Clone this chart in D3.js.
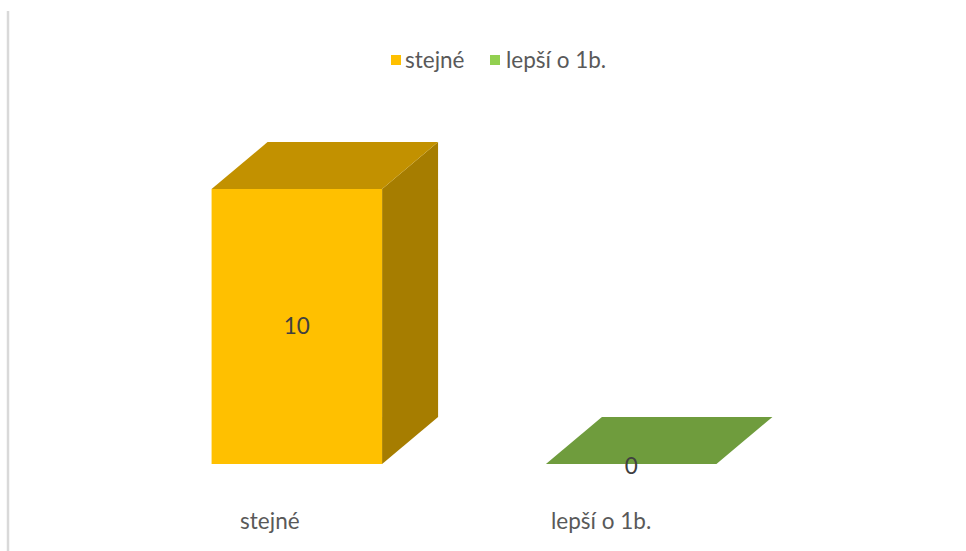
<!DOCTYPE html>
<html>
<head>
<meta charset="utf-8">
<script src="https://cdn.jsdelivr.net/npm/d3@7/dist/d3.min.js"></script>
<style>
  html, body { margin: 0; padding: 0; background: #ffffff; }
  svg { display: block; }
  text { font-family: Lato, "Open Sans", sans-serif; fill: #595959; }
</style>
</head>
<body>
<svg id="chart" width="966" height="551"></svg>
<script>
// Data
const categories = ["stejné", "lepší o 1b."];
const values = [10, 0];
const legendLabels = ["stejné", "lepší o 1b."];

// Colours per series: front, top, side, legend swatch
const palette = [
  { front: "#FFC000", top: "#C29100", side: "#A67D00", swatch: "#FFC000" },
  { front: "#92D050", top: "#6F9C3D", side: "#5C8233", swatch: "#92D050" }
];

const svg = d3.select("#chart");
const W = 966, H = 551;
const fontSize = 22.5;

// Chart frame left edge
svg.append("line")
  .attr("x1", 8).attr("x2", 8).attr("y1", 11).attr("y2", H)
  .attr("stroke", "#d9d9d9").attr("stroke-width", 2.5);

// Scales
const x = d3.scaleBand().domain(categories).range([128, 800]).paddingInner(0.49).paddingOuter(0.25);
const y = d3.scaleLinear().domain([0, 10]).range([464, 189]);

// 3D depth offset
const dx = 56, dy = -47;

const bars = svg.append("g");
categories.forEach((c, i) => {
  const v = values[i];
  const x0 = x(c), x1 = x(c) + x.bandwidth();
  const yt = y(v), yb = y(0);
  const col = palette[i];
  const g = bars.append("g");
  if (v > 0) {
    // side face
    g.append("path")
      .attr("d", `M${x1},${yb} L${x1 + dx},${yb + dy} L${x1 + dx},${yt + dy} L${x1},${yt} Z`)
      .attr("fill", col.side);
    // front face
    g.append("rect")
      .attr("x", x0).attr("y", yt).attr("width", x1 - x0).attr("height", yb - yt)
      .attr("fill", col.front);
  }
  // top face
  g.append("path")
    .attr("d", `M${x0},${yt} L${x1},${yt} L${x1 + dx},${yt + dy} L${x0 + dx},${yt + dy} Z`)
    .attr("fill", col.top);
});

// Value labels
svg.append("g").selectAll("text")
  .data(categories)
  .join("text")
  .attr("x", d => x(d) + x.bandwidth() / 2)
  .attr("y", (d, i) => values[i] > 0 ? (y(values[i]) + y(0)) / 2 : y(0) + 2)
  .attr("dy", "0.35em")
  .attr("text-anchor", "middle")
  .attr("font-size", fontSize)
  .style("fill", "#404040")
  .text((d, i) => values[i]);

// Category labels
svg.append("g").selectAll("text")
  .data(categories)
  .join("text")
  .attr("x", (d, i) => x(d) + x.bandwidth() / 2 - (i === 0 ? 27 : 30))
  .attr("y", 521)
  .attr("dy", "0.35em")
  .attr("text-anchor", "middle")
  .attr("font-size", fontSize)
  .text(d => d);

// Legend
const legend = svg.append("g");
const legendItems = [{ x: 391, tx: 405 }, { x: 490, tx: 506 }];
legendLabels.forEach((l, i) => {
  legend.append("rect")
    .attr("x", legendItems[i].x).attr("y", 55)
    .attr("width", 10).attr("height", 10)
    .attr("fill", palette[i].swatch);
  legend.append("text")
    .attr("x", legendItems[i].tx).attr("y", 60)
    .attr("dy", "0.35em")
    .attr("font-size", fontSize)
    .text(l);
});
</script>
</body>
</html>
